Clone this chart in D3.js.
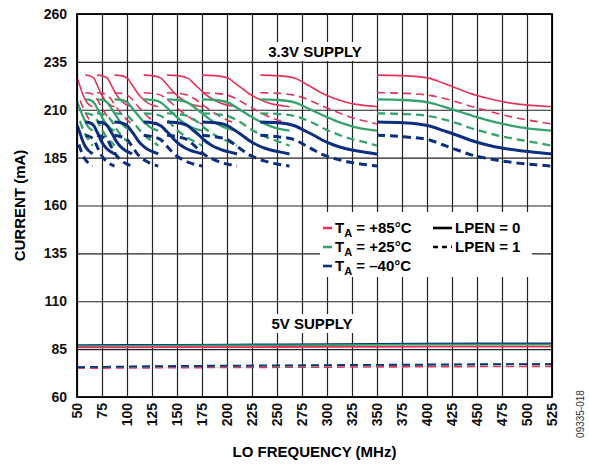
<!DOCTYPE html>
<html lang="en">
<head>
<meta charset="UTF-8">
<title>Supply Current vs LO Frequency</title>
<script src="https://d3js.org/d3.v7.min.js"></script>
<style>
  body { margin: 0; background: #fff; }
  text { font-family: "Liberation Sans", Arial, sans-serif; }
</style>
</head>
<body>
<svg id="chart" width="589" height="465"></svg>
<script>
// tick labels
const freqTicks = [50, 75, 100, 125, 150, 175, 200, 225, 250, 275, 300, 325, 350, 375, 400, 425, 450, 475, 500, 525];
const currentTicks = [60, 85, 110, 135, 160, 185, 210, 235, 260];

// 3.3V supply: LO bands (one per output divider), MHz
const bandStart = [43.75, 58.3, 70, 87.5, 116.7, 140, 175, 233.3, 350];
const bandEnd   = [65.6, 87.5, 105, 131.25, 175, 210, 262.5, 350, 525];
// position inside a band where the current was read
const sweep = [0, 0.15, 0.3, 0.38, 0.47, 0.53, 0.63, 0.72, 0.82, 0.93, 1];
// current (mA) across a band
const hot33Lp0  = [228.1, 227.8, 226.4, 223.8, 220.7, 218.6, 216.0, 214.2, 212.8, 212.0, 211.6];
const hot33Lp1  = [218.9, 218.6, 217.5, 216.0, 213.7, 212.0, 209.5, 207.3, 205.3, 203.6, 202.6];
const room33Lp0 = [215.4, 215.1, 213.7, 211.6, 209.0, 207.3, 204.6, 202.6, 200.8, 199.6, 199.1];
const room33Lp1 = [208.1, 207.8, 206.7, 205.0, 202.6, 200.6, 198.0, 195.9, 194.2, 192.5, 191.2];
const cold33Lp0 = [203.6, 203.2, 201.5, 199.1, 196.3, 194.2, 191.6, 189.9, 188.6, 187.6, 186.9];
const cold33Lp1 = [196.7, 195.9, 194.2, 191.6, 188.6, 186.7, 184.6, 183.2, 182.0, 181.1, 180.6];

// 5V supply
const lo5v = [50, 150, 250, 350, 450, 525];
const hot5Lp0  = [85.9, 86.0, 86.1, 86.2, 86.3, 86.3];
const hot5Lp1  = [75.0, 75.3, 75.5, 75.7, 75.9, 76.0];
const room5Lp0 = [86.6, 86.8, 87.0, 87.2, 87.4, 87.4];
const room5Lp1 = [75.5, 76.0, 76.3, 76.6, 76.9, 77.1];
const cold5Lp0 = [87.0, 87.2, 87.4, 87.7, 88.0, 88.0];
const cold5Lp1 = [75.6, 76.2, 76.5, 76.8, 77.1, 77.2];

const red = "#e5335a", green = "#36a36c", blue = "#0d2f80";

const plotL = 77, plotR = 552, plotT = 14, plotB = 397;
const svg = d3.select("#chart");

const x = d3.scaleLinear().domain([50, 525]).range([plotL, plotR]);
const y = d3.scaleLinear().domain([60, 260]).range([plotB, plotT]);

// grid
svg.append("g")
    .attr("transform", "translate(0," + plotB + ")")
    .call(d3.axisBottom(x).tickValues(freqTicks).tickSize(-(plotB - plotT)).tickFormat(""))
    .call(g => g.select(".domain").remove())
    .selectAll("line").attr("stroke", "#222").attr("stroke-width", 1.2);

svg.append("g")
    .attr("transform", "translate(" + plotL + ",0)")
    .call(d3.axisLeft(y).tickValues(currentTicks).tickSize(-(plotR - plotL)).tickFormat(""))
    .call(g => g.select(".domain").remove())
    .selectAll("line").attr("stroke", "#222").attr("stroke-width", 1.2);

// tick labels
svg.append("g")
    .attr("transform", "translate(0," + plotB + ")")
    .call(d3.axisBottom(x).tickValues(freqTicks).tickSize(0))
    .call(g => g.select(".domain").remove())
    .selectAll("text")
    .attr("transform", "rotate(-90)")
    .attr("x", -6).attr("y", 0).attr("dy", "0.35em")
    .style("text-anchor", "end")
    .style("font-size", "14px").style("font-weight", "bold").attr("fill", "#111");

svg.append("g")
    .attr("transform", "translate(" + plotL + ",0)")
    .call(d3.axisLeft(y).tickValues(currentTicks).tickSize(0).tickPadding(10))
    .call(g => g.select(".domain").remove())
    .selectAll("text")
    .style("font-size", "14px").style("font-weight", "bold").attr("fill", "#111");

// clip
svg.append("clipPath").attr("id", "plotClip")
    .append("rect").attr("x", plotL).attr("y", plotT).attr("width", plotR - plotL).attr("height", plotB - plotT);

const plot = svg.append("g").attr("clip-path", "url(#plotClip)");

const line = d3.line().x(d => x(d[0])).y(d => y(d[1])).curve(d3.curveMonotoneX);

const series33 = [
    { vals: hot33Lp1, color: red, w: 1.6, dash: true },
    { vals: room33Lp1, color: green, w: 2.3, dash: true },
    { vals: cold33Lp1, color: blue, w: 3, dash: true },
    { vals: hot33Lp0, color: red, w: 1.6, dash: false },
    { vals: room33Lp0, color: green, w: 2.3, dash: false },
    { vals: cold33Lp0, color: blue, w: 3, dash: false }
];

series33.forEach(s => {
    bandStart.forEach((b, i) => {
        const pts = sweep.map((t, k) => [b + t * (bandEnd[i] - b), s.vals[k]]);
        plot.append("path")
            .attr("d", line(pts))
            .attr("fill", "none")
            .attr("stroke", s.color)
            .attr("stroke-width", s.w)
            .attr("stroke-dasharray", s.dash ? "8,5" : null);
    });
});

const series5 = [
    { vals: hot5Lp1, color: red, w: 1.6, dash: true },
    { vals: room5Lp1, color: green, w: 1.8, dash: true },
    { vals: cold5Lp1, color: blue, w: 1.8, dash: true },
    { vals: cold5Lp0, color: blue, w: 2, dash: false },
    { vals: room5Lp0, color: green, w: 1.8, dash: false },
    { vals: hot5Lp0, color: red, w: 1.8, dash: false }
];

series5.forEach(s => {
    plot.append("path")
        .attr("d", line(lo5v.map((f, k) => [f, s.vals[k]])))
        .attr("fill", "none")
        .attr("stroke", s.color)
        .attr("stroke-width", s.w)
        .attr("stroke-dasharray", s.dash ? "8,5" : null);
});

// frame
svg.append("rect")
    .attr("x", plotL).attr("y", plotT)
    .attr("width", plotR - plotL).attr("height", plotB - plotT)
    .attr("fill", "none").attr("stroke", "#000").attr("stroke-width", 1.8);

// supply labels
function boxedLabel(txt, cx, cy) {
    const t = svg.append("text")
        .attr("x", cx).attr("y", cy)
        .attr("text-anchor", "middle")
        .style("font-size", "15px").style("font-weight", "bold")
        .text(txt);
    const bb = t.node().getBBox();
    svg.insert("rect", () => t.node())
        .attr("x", bb.x - 3).attr("y", bb.y - 1)
        .attr("width", bb.width + 6).attr("height", bb.height + 2)
        .attr("fill", "#fff");
}
boxedLabel("3.3V SUPPLY", 315, 57);
boxedLabel("5V SUPPLY", 312, 329);

// legend
const legend = svg.append("g");
legend.append("rect")
    .attr("x", 320).attr("y", 212).attr("width", 212).attr("height", 65)
    .attr("fill", "#fff");

const temps = [
    { label: "+85°C", color: red },
    { label: "+25°C", color: green },
    { label: "\u201340°C", color: blue }
];
temps.forEach((d, i) => {
    const cy = 228 + i * 19;
    legend.append("line")
        .attr("x1", 323).attr("x2", 332).attr("y1", cy).attr("y2", cy)
        .attr("stroke", d.color).attr("stroke-width", 2.6);
    const t = legend.append("text")
        .attr("x", 335).attr("y", cy + 5)
        .style("font-size", "15px").style("font-weight", "bold");
    t.append("tspan").text("T");
    t.append("tspan").attr("dy", 4).style("font-size", "11px").text("A");
    t.append("tspan").attr("dy", -4).text(" = " + d.label);
});

legend.append("line")
    .attr("x1", 433).attr("x2", 452).attr("y1", 228).attr("y2", 228)
    .attr("stroke", "#000").attr("stroke-width", 2.6);
legend.append("line")
    .attr("x1", 433).attr("x2", 452).attr("y1", 247).attr("y2", 247)
    .attr("stroke", "#000").attr("stroke-width", 2.6)
    .attr("stroke-dasharray", "5,4");
legend.append("text").attr("x", 455).attr("y", 233)
    .style("font-size", "15px").style("font-weight", "bold").text("LPEN = 0");
legend.append("text").attr("x", 455).attr("y", 252)
    .style("font-size", "15px").style("font-weight", "bold").text("LPEN = 1");

// axis titles
svg.append("text")
    .attr("x", (plotL + plotR) / 2).attr("y", 457)
    .attr("text-anchor", "middle")
    .style("font-size", "15px").style("font-weight", "bold")
    .text("LO FREQUENCY (MHz)");

svg.append("text")
    .attr("transform", "translate(25," + ((plotT + plotB) / 2) + ") rotate(-90)")
    .attr("text-anchor", "middle")
    .style("font-size", "15px").style("font-weight", "bold")
    .text("CURRENT (mA)");

svg.append("text")
    .attr("transform", "translate(584,414) rotate(-90)")
    .attr("text-anchor", "middle")
    .style("font-size", "10px").attr("fill", "#333")
    .text("09335-018");
</script>
</body>
</html>
